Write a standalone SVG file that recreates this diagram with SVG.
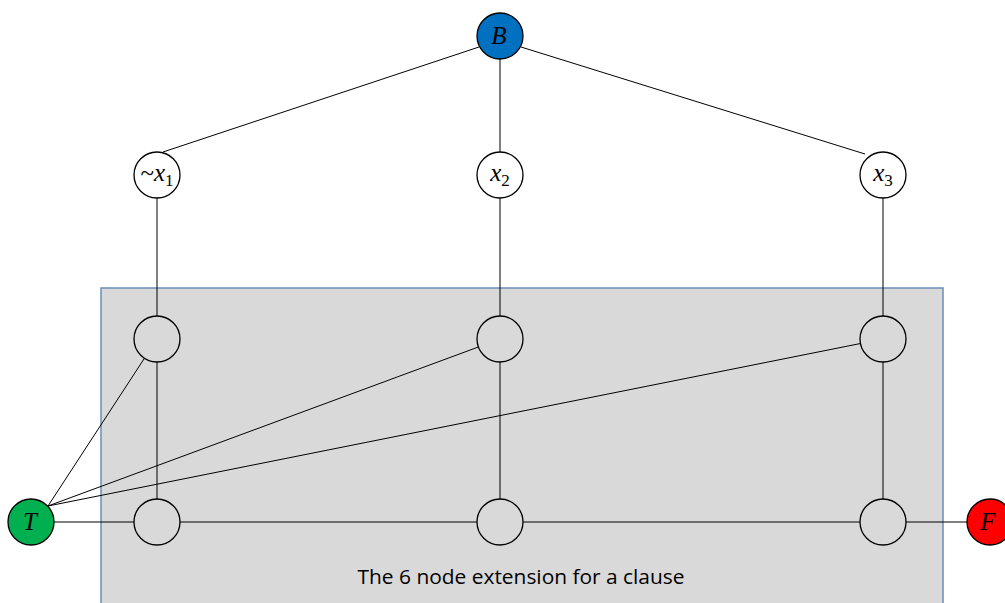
<svg xmlns="http://www.w3.org/2000/svg" width="1005" height="603" viewBox="0 0 1005 603">
  <style>
    .edge { stroke: #000; stroke-width: 1; fill: none; }
    .node { stroke: #000; stroke-width: 1.3; }
    .plain { fill: #fff; }
    .inner { fill: #d9d9d9; }
    .math { font-family: "Liberation Serif", "DejaVu Serif", serif; font-style: italic; font-size: 25px; fill: #000; }
    .sub { font-size: 17px; font-style: normal; }
    .caption { font-family: "Open Sans", "Liberation Sans", sans-serif; font-size: 19.5px; fill: #000; }
  </style>

  <!-- clause extension panel -->
  <rect id="panel" x="101" y="288" width="842" height="330" fill="#d9d9d9" stroke="#6b8fb8" stroke-width="1.5"/>
  <text class="caption" x="521" y="584" text-anchor="middle" textLength="327" lengthAdjust="spacingAndGlyphs">The 6 node extension for a clause</text>

  <g id="connectors">
    <line class="edge" x1="479" y1="47" x2="163" y2="152"/>
    <line class="edge" x1="500" y1="36" x2="500" y2="175"/>
    <line class="edge" x1="521" y1="47" x2="865" y2="154"/>
    <line class="edge" x1="157" y1="175" x2="157" y2="522"/>
    <line class="edge" x1="500" y1="175" x2="500" y2="522"/>
    <line class="edge" x1="883" y1="175" x2="883" y2="522"/>
    <line class="edge" x1="31" y1="522" x2="990" y2="522"/>
    <line class="edge" x1="48" y1="506" x2="157" y2="339"/>
    <line class="edge" x1="48" y1="506" x2="500" y2="339"/>
    <line class="edge" x1="48" y1="506" x2="883" y2="339"/>
  </g>

  <g id="node-B">
    <circle class="node" cx="500" cy="36" r="23" fill="#0070c0"/>
    <text class="math" x="499" y="44" text-anchor="middle">B</text>
  </g>

  <g id="node-not-x1">
    <circle class="node plain" cx="157" cy="175" r="23"/>
    <text class="math" x="157" y="181" text-anchor="middle"><tspan font-style="normal">~</tspan>x<tspan class="sub" dy="5">1</tspan></text>
  </g>
  <g id="node-x2">
    <circle class="node plain" cx="500" cy="175" r="23"/>
    <text class="math" x="500" y="181" text-anchor="middle">x<tspan class="sub" dy="5">2</tspan></text>
  </g>
  <g id="node-x3">
    <circle class="node plain" cx="883" cy="175" r="23"/>
    <text class="math" x="883" y="181" text-anchor="middle">x<tspan class="sub" dy="5">3</tspan></text>
  </g>

  <g id="node-a1"><circle class="node inner" cx="157" cy="339" r="23"/></g>
  <g id="node-a2"><circle class="node inner" cx="500" cy="339" r="23"/></g>
  <g id="node-a3"><circle class="node inner" cx="883" cy="339" r="23"/></g>
  <g id="node-b1"><circle class="node inner" cx="157" cy="522" r="23"/></g>
  <g id="node-b2"><circle class="node inner" cx="500" cy="522" r="23"/></g>
  <g id="node-b3"><circle class="node inner" cx="883" cy="522" r="23"/></g>

  <g id="node-T">
    <circle class="node" cx="31" cy="522" r="23" fill="#00b050"/>
    <text class="math" x="30" y="530" text-anchor="middle">T</text>
  </g>
  <g id="node-F">
    <circle class="node" cx="990" cy="522" r="23" fill="#ff0000"/>
    <text class="math" x="988" y="530" text-anchor="middle">F</text>
  </g>
</svg>
